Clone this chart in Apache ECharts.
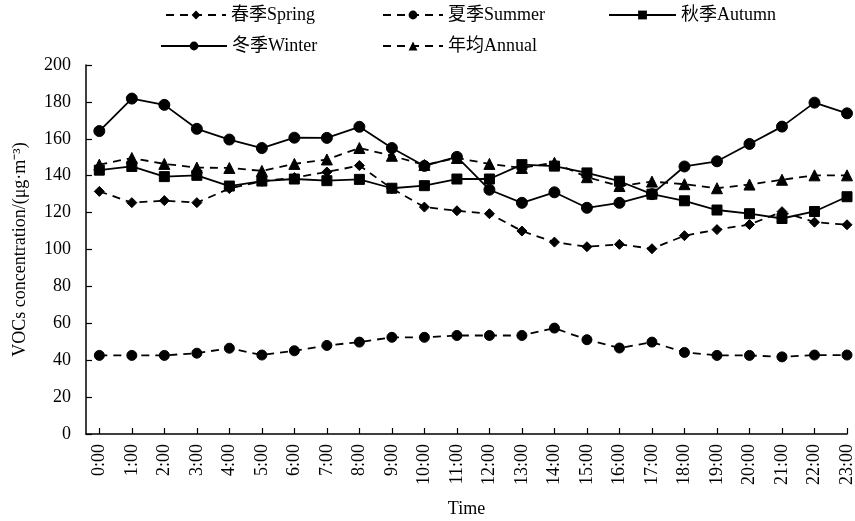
<!DOCTYPE html>
<html><head><meta charset="utf-8">
<script src="https://cdn.jsdelivr.net/npm/echarts@6/dist/echarts.min.js"></script>
<style>html,body{margin:0;padding:0;background:#fff}#c{width:855px;height:521px}</style>
</head><body><div id="c"></div>
<script>
const hours = ['0:00','1:00','2:00','3:00','4:00','5:00','6:00','7:00','8:00','9:00','10:00','11:00','12:00','13:00','14:00','15:00','16:00','17:00','18:00','19:00','20:00','21:00','22:00','23:00'];
const spring = [131.5,125.4,126.5,125.4,133,137,139,142,145.5,133,123,121,119.4,110,104,101.5,102.8,100.4,107.5,110.8,113.5,120.5,114.8,113.4];
const summer = [42.6,42.6,42.6,43.8,46.5,42.8,45.1,48,49.8,52.4,52.4,53.4,53.4,53.4,57.4,51.1,46.6,49.8,44.2,42.6,42.6,41.8,42.8,42.8];
const autumn = [143,145,139.5,140.2,134.4,137.1,138.2,137.3,138,133.2,134.6,138.2,138.2,146,145.2,141.5,137,130,126.4,121.4,119.4,116.8,120.6,128.6];
const winter = [164.2,181.8,178.4,165.4,159.6,155,160.6,160.5,166.5,155,145.3,150.2,132.4,125.3,131,122.6,125.3,130,145,147.8,157.2,166.6,179.6,173.8];
const annual = [146,149.6,146.4,144.4,144.2,142.6,146.4,148.8,155,150.8,145.8,149.6,146.4,144.2,147,139.2,134.4,136.8,135.4,133.2,135.2,137.8,140.2,140.2];
const yTicks = {min:0, max:200, interval:20};
const names = ['春季Spring','夏季Summer','秋季Autumn','冬季Winter','年均Annual'];

const serif = "'Liberation Serif','Noto Sans CJK SC',serif";
const hourIdx = hours.map((h,i)=>i);
const chart = echarts.init(document.getElementById('c'), null, {renderer:'canvas'});
function ser(name, data, symbol, dashed, size){
  return {name, type:'line', data: data.map((v,i)=>[hourIdx[i], v]), symbol, symbolSize:size, showSymbol:true,
    lineStyle:{color:'#000', width:1.8, type: dashed ? [8,6] : 'solid'},
    itemStyle:{color:'#000', borderColor:'#000'}, animation:false, z: 3};
}
// [left, top, itemWidth]
const legendPos = [[165,6,60],[382,6,60],[608,6,67],[160,37,66],[382,37,60]];
chart.setOption({
  backgroundColor:'#fff',
  animation:false,
  legend: names.map((n,i)=>({data:[n], left:legendPos[i][0], top:legendPos[i][1], itemWidth:legendPos[i][2], itemHeight:11,
    textStyle:{fontFamily:serif, fontSize:18, color:'#000'}, padding:0, selectedMode:false})),
  grid:{left:86, right:8, top:65, bottom:87, containLabel:false, outerBoundsMode:'none'},
  xAxis:{type:'value', min:-0.41, max:23,
    name:'Time', nameLocation:'middle', nameGap:66,
    nameTextStyle:{fontFamily:serif, fontSize:18, color:'#000'},
    axisLine:{onZero:false, lineStyle:{color:'#000', width:1.5}},
    axisTick:{inside:true, length:6, customValues: hourIdx, lineStyle:{color:'#000', width:1.2}},
    axisLabel:{rotate:90, margin:10, fontFamily:serif, fontSize:18, color:'#000', customValues: hourIdx,
      formatter: v => hours[Math.round(v)]},
    splitLine:{show:false}},
  yAxis:{type:'value', min:yTicks.min, max:yTicks.max, interval:yTicks.interval,
    name:'VOCs concentration/(μg·m⁻³)', nameLocation:'middle', nameGap:57, nameRotate:90,
    nameTextStyle:{fontFamily:serif, fontSize:18, color:'#000'},
    axisLine:{show:true, onZero:false, lineStyle:{color:'#000', width:1.5}},
    axisTick:{show:true, inside:true, length:6, lineStyle:{color:'#000', width:1.2}},
    axisLabel:{margin:15, fontFamily:serif, fontSize:18, color:'#000'},
    splitLine:{show:false}},
  series:[
    ser(names[0], spring, 'diamond', true, 10),
    ser(names[1], summer, 'circle', true, 10),
    ser(names[2], autumn, 'rect', false, 10),
    ser(names[3], winter, 'circle', false, 11),
    ser(names[4], annual, 'triangle', true, 11)
  ]
});
</script></body></html>
